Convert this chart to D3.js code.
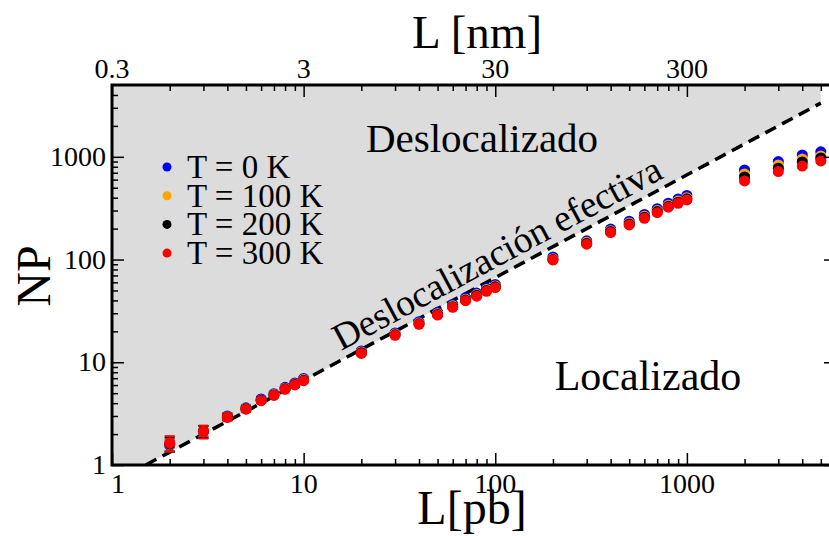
<!DOCTYPE html>
<html><head><meta charset="utf-8">
<script src="https://cdn.jsdelivr.net/npm/d3@7"></script>
<style>body{margin:0;background:#fff}svg{display:block}text{font-family:"Liberation Serif","Times New Roman",serif;fill:#000}</style>
</head><body><svg id="c" width="829" height="536"></svg>
<script>
// ---- data ----
const L = [2,3,4,5,6,7,8,9,10,20,30,40,50,60,70,80,90,100,200,300,400,500,600,700,800,900,1000,2000,3000,4000,5000];
const np0   = [1.55,2.15,3.0,3.6,4.4,4.95,5.7,6.3,6.95,12.9,19.3,24.8,30.6,36.6,42.5,47.2,52.8,57.3,106,152,198,236,275,313,354,389,420,745,898,1043,1117];
const np100 = [1.58,2.13,2.95,3.55,4.3,4.85,5.6,6.15,6.8,12.6,18.8,24.1,29.7,35.4,41,45.6,51,55.3,102,147,191,227,264,300,338,371,400,681,834,954,1020];
const np200 = [1.6,2.12,2.93,3.52,4.26,4.8,5.52,6.08,6.7,12.4,18.5,23.7,29.2,34.8,40.3,44.8,50,54.2,100,144,187,222,258,293,330,362,390,637,774,891,975];
const np300 = [1.63,2.11,2.91,3.49,4.23,4.77,5.46,6.01,6.62,12.2,18.3,23.4,28.8,34.3,39.8,44,49.1,53.2,99,141,183,217,252,286,323,353,380,582,718,813,912];
const err0   = [0.2,0.25,0.2,0.2,0.2,0.2,0.2,0.25,0.25,0.5,0.7,0.9,1,1.2,1.4,1.5,1.6,1.8,3,5,6,7,8,9,10,11,12,20,25,30,35];
const err100 = [0.22,0.27,0.2,0.2,0.2,0.2,0.2,0.25,0.25,0.5,0.7,0.9,1,1.2,1.4,1.5,1.6,1.8,3,5,6,7,8,9,10,11,12,20,25,30,35];
const err200 = [0.25,0.28,0.2,0.2,0.2,0.2,0.2,0.25,0.25,0.5,0.7,0.9,1,1.2,1.4,1.5,1.6,1.8,3,5,6,7,8,9,10,11,12,20,25,30,35];
const err300 = [0.28,0.3,0.2,0.2,0.2,0.2,0.2,0.25,0.25,0.5,0.7,0.9,1,1.2,1.4,1.5,1.6,1.8,3,5,6,7,8,9,10,11,12,20,25,30,35];
const seriesNames = ["T = 0 K","T = 100 K","T = 200 K","T = 300 K"];
const seriesColors = ["#0000ff","#ffa500","#000000","#ff0000"];
const xMajor = [1,10,100,1000];
const xMajorLabels = ["1","10","100","1000"];
const xMinor = [2,3,4,5,6,7,8,9,20,30,40,50,60,70,80,90,200,300,400,500,600,700,800,900,2000,3000,4000,5000];
const topLabels = ["0.3","3","30","300"];
const yMajor = [1,10,100,1000];
const yMajorLabels = ["1","10","100","1000"];
const yMinor = [2,3,4,5,6,7,8,9,20,30,40,50,60,70,80,90,200,300,400,500,600,700,800,900,2000,3000,4000];
const lineX = [1.5,5000];     // effective delocalization line NP = L/1.5
const lineY = [1,3333];
const xDomain = [1,6000];
const yDomain = [1,5000];

// ---- layout ----
const svg = d3.select("#c");
const pL=112, pR=836, pT=85, pB=465;
const x = d3.scaleLog().domain(xDomain).range([pL,pR]);
const y = d3.scaleLog().domain(yDomain).range([pB,pT]);

// gray delocalized region
const poly = [[1,1],[lineX[0],lineY[0]],[lineX[1],lineY[1]],[lineX[1],yDomain[1]],[1,yDomain[1]]];
svg.append("path").attr("d", d3.line().x(d=>x(d[0])).y(d=>y(d[1]))(poly)+"Z").attr("fill","#dcdcdc");

// dashed line
svg.append("line").attr("x1",x(lineX[0])).attr("y1",y(lineY[0])).attr("x2",x(lineX[1])).attr("y2",y(lineY[1]))
  .attr("stroke","#000").attr("stroke-width",3.5).attr("stroke-dasharray","12,7");

// region labels
svg.append("text").attr("x",482).attr("y",152).attr("text-anchor","middle").style("font-size","41px").text("Deslocalizado");
svg.append("text").attr("x",648).attr("y",390).attr("text-anchor","middle").style("font-size","42px").text("Localizado");
const ang = Math.atan2(y(1)-y(10), x(10)-x(1))*180/Math.PI;
svg.append("text").attr("transform",`translate(341,351) rotate(${-ang})`).style("font-size","37.5px").text("Deslocalización efectiva");

// data: error bars + points
const sets = [np0,np100,np200,np300];
const errs = [err0,err100,err200,err300];
sets.forEach((vals,si)=>{
  const g = svg.append("g");
  const c = seriesColors[si];
  L.forEach((l,i)=>{
    const v=vals[i], e=errs[si][i];
    const px=x(l), y1=y(v+e), y2=y(Math.max(v-e,0.5));
    g.append("line").attr("x1",px).attr("x2",px).attr("y1",y1).attr("y2",y2).attr("stroke",c).attr("stroke-width",1.5);
    g.append("line").attr("x1",px-5).attr("x2",px+5).attr("y1",y1).attr("y2",y1).attr("stroke",c).attr("stroke-width",2);
    g.append("line").attr("x1",px-5).attr("x2",px+5).attr("y1",y2).attr("y2",y2).attr("stroke",c).attr("stroke-width",2);
  });
  g.selectAll("circle").data(L).join("circle").attr("cx",d=>x(d)).attr("cy",(d,i)=>y(vals[i])).attr("r",5.5).attr("fill",c);
});

// legend
const lg = svg.append("g");
seriesNames.forEach((n,i)=>{
  lg.append("circle").attr("cx",167).attr("cy",167+28.7*i).attr("r",4.5).attr("fill",seriesColors[i]);
  lg.append("text").attr("x",187).attr("y",178+28.7*i).style("font-size","33px").text(n);
});

// axes
function styleAxis(g){ g.select(".domain").remove(); g.selectAll("line").attr("stroke","#000").attr("stroke-width",1.5); g.selectAll("text").remove(); }
svg.append("g").attr("transform",`translate(0,${pB})`).call(d3.axisBottom(x).tickValues(xMajor).tickSize(-12)).call(styleAxis);
svg.append("g").attr("transform",`translate(0,${pB})`).call(d3.axisBottom(x).tickValues(xMinor).tickSize(-6)).call(styleAxis);
svg.append("g").attr("transform",`translate(0,${pT})`).call(d3.axisTop(x).tickValues(xMajor).tickSize(-12)).call(styleAxis);
svg.append("g").attr("transform",`translate(0,${pT})`).call(d3.axisTop(x).tickValues(xMinor).tickSize(-6)).call(styleAxis);
svg.append("g").attr("transform",`translate(${pL},0)`).call(d3.axisLeft(y).tickValues(yMajor).tickSize(-12)).call(styleAxis);
svg.append("g").attr("transform",`translate(${pL},0)`).call(d3.axisLeft(y).tickValues(yMinor).tickSize(-6)).call(styleAxis);
svg.append("g").attr("transform",`translate(${pR},0)`).call(d3.axisRight(y).tickValues(yMajor).tickSize(-12)).call(styleAxis);
svg.append("g").attr("transform",`translate(${pR},0)`).call(d3.axisRight(y).tickValues(yMinor).tickSize(-6)).call(styleAxis);
svg.append("rect").attr("x",pL).attr("y",pT).attr("width",pR-pL).attr("height",pB-pT).attr("fill","none").attr("stroke","#000").attr("stroke-width",3);

// tick labels
xMajor.forEach((v,i)=>{
  svg.append("text").attr("x",x(v)+(i===0?6:0)).attr("y",493).attr("text-anchor","middle").style("font-size","28px").text(xMajorLabels[i]);
  svg.append("text").attr("x",x(v)).attr("y",78).attr("text-anchor","middle").style("font-size","28px").text(topLabels[i]);
});
yMajor.forEach((v,i)=>{
  svg.append("text").attr("x",106).attr("y",y(v)+9).attr("text-anchor","end").style("font-size","28px").text(yMajorLabels[i]);
});

// axis titles
svg.append("text").attr("x",472).attr("y",524).attr("text-anchor","middle").style("font-size","48px").text("L[pb]");
svg.append("text").attr("x",477).attr("y",48).attr("text-anchor","middle").style("font-size","47px").text("L [nm]");
svg.append("text").attr("transform","translate(50,276) rotate(-90)").attr("text-anchor","middle").style("font-size","48px").text("NP");
</script></body></html>
